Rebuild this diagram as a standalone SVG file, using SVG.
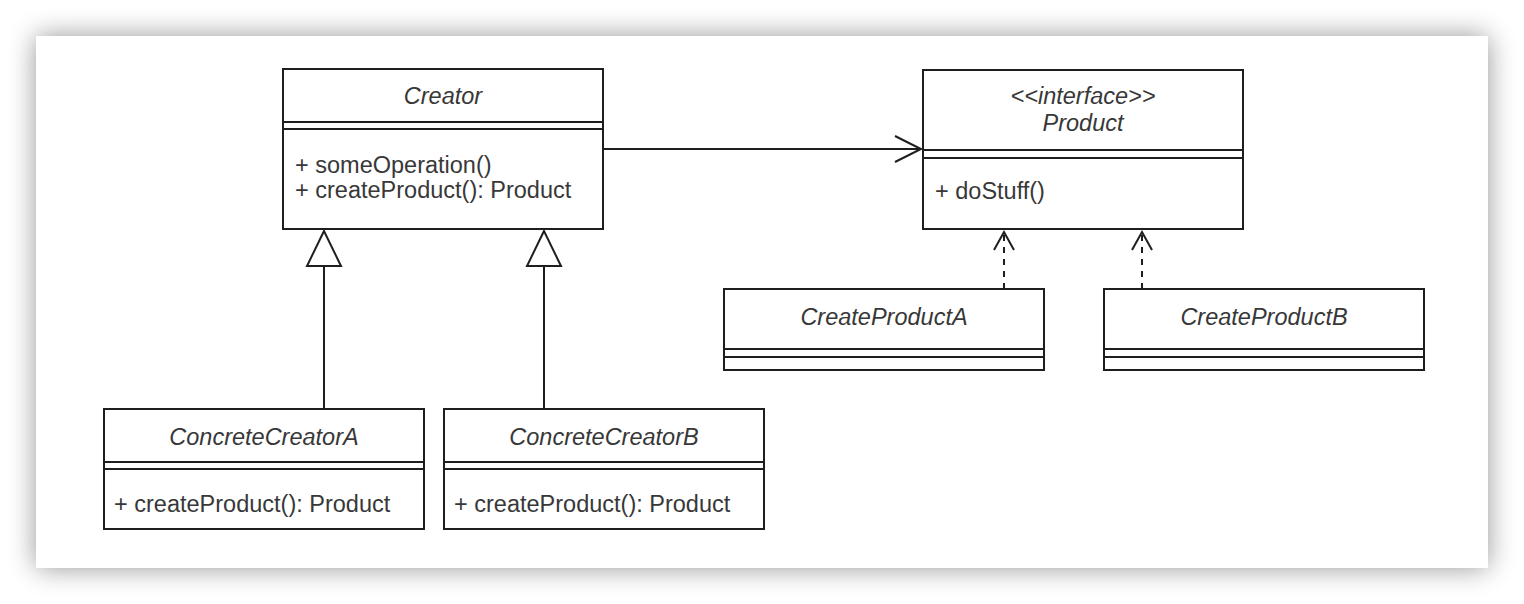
<svg xmlns="http://www.w3.org/2000/svg" width="1524" height="604" viewBox="0 0 1524 604">
<style>
.box{fill:#fff;stroke:#1e1e1e;stroke-width:2}
.sep{stroke:#1e1e1e;stroke-width:2;fill:none}
.t{font-family:"Liberation Sans",Arial,sans-serif;font-size:23.5px;fill:#383838}
.h{font-style:italic;text-anchor:middle}
.edge{stroke:#1e1e1e;stroke-width:2;fill:none}
.dash{stroke-dasharray:6 6}
</style>
<defs>
<filter id="sh" x="-10%" y="-15%" width="120%" height="130%">
<feGaussianBlur in="SourceAlpha" stdDeviation="14"/>
<feComponentTransfer><feFuncA type="linear" slope="0.42"/></feComponentTransfer>
<feMerge><feMergeNode/><feMergeNode in="SourceGraphic"/></feMerge>
</filter>
</defs>
<rect width="1524" height="604" fill="#fff"/>
<rect x="36" y="36" width="1452" height="532" fill="#fff" filter="url(#sh)"/>

<g id="connectors">
<line class="edge" x1="603" y1="149" x2="921" y2="149"/>
<polyline class="edge" points="895,136 921,149 895,162"/>
<line class="edge" x1="324" y1="266" x2="324" y2="409"/>
<polygon class="box" points="324,231 307,266 341,266"/>
<line class="edge" x1="544" y1="266" x2="544" y2="409"/>
<polygon class="box" points="544,231 527,266 561,266"/>
<line class="edge dash" x1="1004" y1="289" x2="1004" y2="234"/>
<polyline class="edge" points="994,250 1004,232 1014,250"/>
<line class="edge dash" x1="1142" y1="289" x2="1142" y2="234"/>
<polyline class="edge" points="1132,250 1142,232 1152,250"/>
</g>

<g id="creator">
<rect class="box" x="283" y="69" width="320" height="160"/>
<line class="sep" x1="283" y1="122" x2="603" y2="122"/>
<line class="sep" x1="283" y1="129" x2="603" y2="129"/>
<text class="t h" x="443" y="104">Creator</text>
<text class="t" x="295" y="173">+ someOperation()</text>
<text class="t" x="295" y="198">+ createProduct(): Product</text>
</g>

<g id="product">
<rect class="box" x="923" y="70" width="320" height="159"/>
<line class="sep" x1="923" y1="150" x2="1243" y2="150"/>
<line class="sep" x1="923" y1="158" x2="1243" y2="158"/>
<text class="t h" x="1083" y="104">&lt;&lt;interface&gt;&gt;</text>
<text class="t h" x="1083" y="131">Product</text>
<text class="t" x="935" y="199">+ doStuff()</text>
</g>

<g id="concreteCreatorA">
<rect class="box" x="104" y="409" width="320" height="120"/>
<line class="sep" x1="104" y1="462" x2="424" y2="462"/>
<line class="sep" x1="104" y1="469" x2="424" y2="469"/>
<text class="t h" x="264" y="445">ConcreteCreatorA</text>
<text class="t" x="114" y="512">+ createProduct(): Product</text>
</g>

<g id="concreteCreatorB">
<rect class="box" x="444" y="409" width="320" height="120"/>
<line class="sep" x1="444" y1="462" x2="764" y2="462"/>
<line class="sep" x1="444" y1="469" x2="764" y2="469"/>
<text class="t h" x="604" y="445">ConcreteCreatorB</text>
<text class="t" x="454" y="512">+ createProduct(): Product</text>
</g>

<g id="createProductA">
<rect class="box" x="724" y="289" width="320" height="81"/>
<line class="sep" x1="724" y1="349" x2="1044" y2="349"/>
<line class="sep" x1="724" y1="357" x2="1044" y2="357"/>
<text class="t h" x="884" y="325">CreateProductA</text>
</g>

<g id="createProductB">
<rect class="box" x="1104" y="289" width="320" height="81"/>
<line class="sep" x1="1104" y1="349" x2="1424" y2="349"/>
<line class="sep" x1="1104" y1="357" x2="1424" y2="357"/>
<text class="t h" x="1264" y="325">CreateProductB</text>
</g>
</svg>
